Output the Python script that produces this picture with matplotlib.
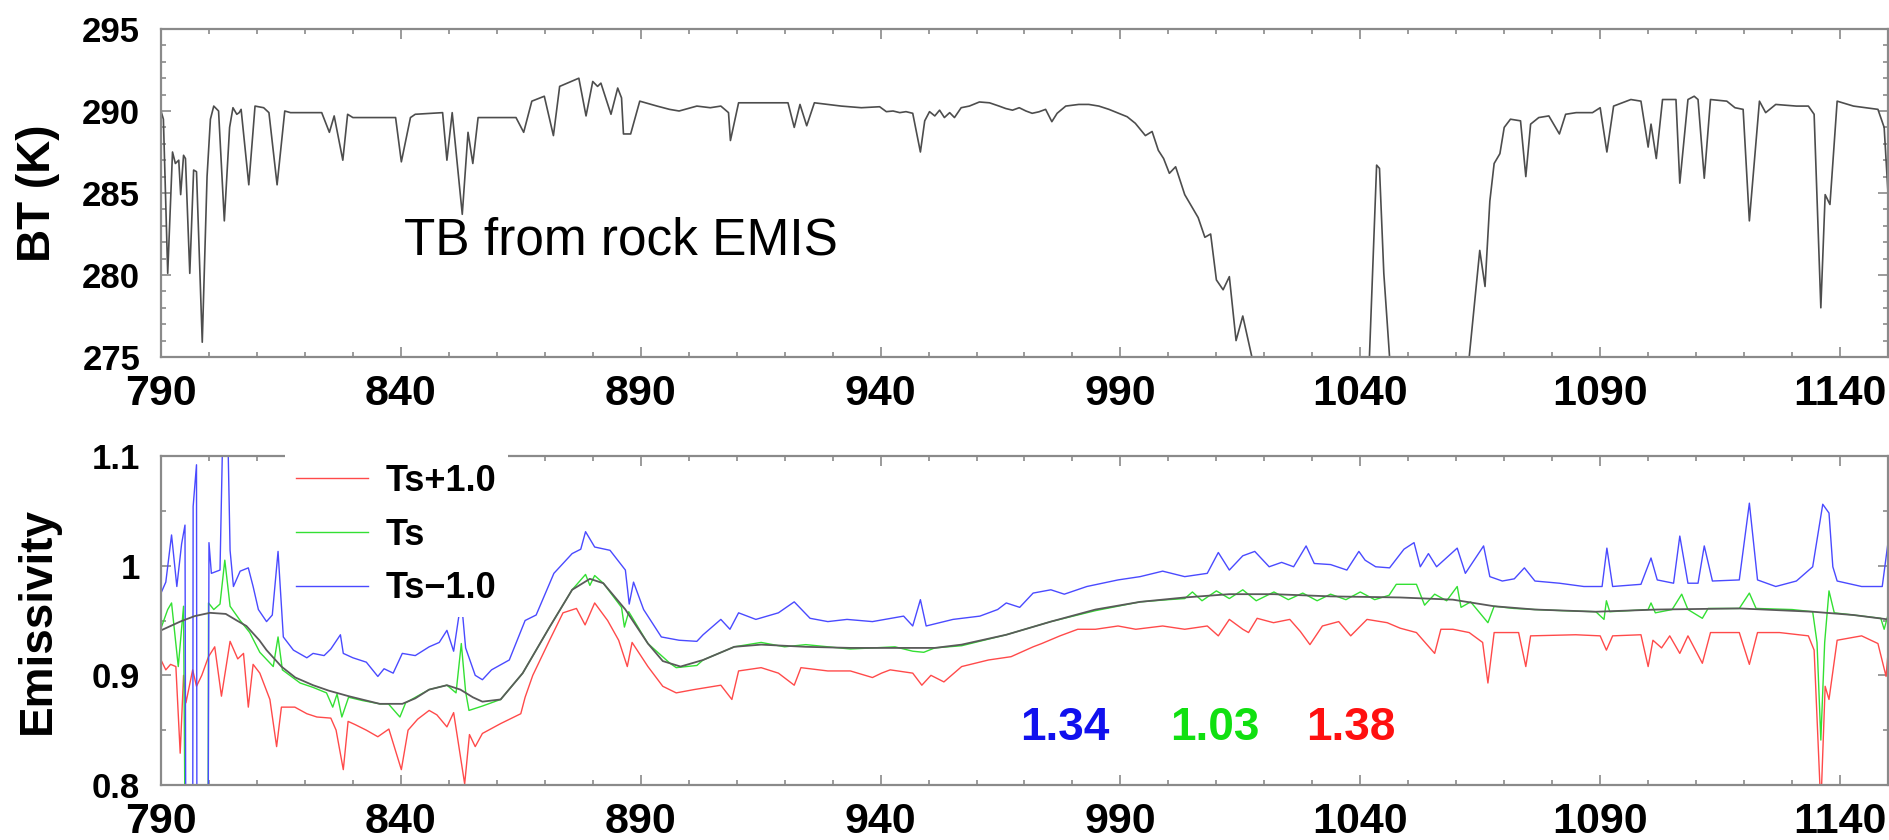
import matplotlib
matplotlib.use("Agg")
import matplotlib.pyplot as plt
from matplotlib.ticker import MultipleLocator

# ---- data ----
# brightness temperature, (wavenumber, K)
bt_points = [
    (790.0, 290.0), (790.5, 289.5), (791.4, 280.1), (792.4, 287.5), (793.0, 286.8), (793.7, 287.0),
    (794.1, 284.9), (794.7, 287.3), (795.1, 287.1), (796.0, 280.1), (796.8, 286.4), (797.4, 286.3),
    (798.6, 275.9), (799.6, 286.0), (800.3, 289.5), (801.0, 290.3), (802.0, 290.0), (803.2, 283.3),
    (804.3, 289.0), (805.0, 290.2), (805.8, 289.8), (806.3, 289.9), (806.7, 290.1), (808.3, 285.5),
    (809.6, 290.3), (811.4, 290.2), (812.5, 289.9), (814.2, 285.5), (815.8, 290.0), (817.0, 289.9),
    (823.5, 289.9), (825.1, 288.7), (826.1, 289.7), (827.9, 287.0), (828.9, 289.8), (830.0, 289.6),
    (838.9, 289.6), (840.1, 286.9), (842.0, 289.6), (843.0, 289.8), (848.7, 289.9), (849.6, 287.0),
    (850.7, 289.9), (852.8, 283.7), (854.0, 288.7), (855.0, 286.8), (856.1, 289.6), (864.0, 289.6),
    (865.6, 288.7), (867.3, 290.6), (869.9, 290.9), (871.8, 288.5), (873.1, 291.5), (877.1, 292.0),
    (878.6, 289.7), (880.0, 291.8), (881.0, 291.5), (881.7, 291.7), (883.8, 289.8), (885.2, 291.4),
    (886.0, 290.8), (886.4, 288.6), (887.6, 288.6), (887.9, 288.6), (889.8, 290.6), (893.4, 290.3),
    (896.0, 290.1), (898.0, 290.0), (901.7, 290.3), (904.5, 290.2), (906.7, 290.3), (908.3, 289.9),
    (908.7, 288.2), (910.4, 290.5), (915.0, 290.5), (920.7, 290.5), (922.0, 289.0), (923.2, 290.4),
    (924.6, 289.1), (926.2, 290.5), (931.8, 290.3), (936.0, 290.2), (939.8, 290.26), (941.2, 289.96),
    (942.6, 290.0), (944.0, 289.9), (945.3, 289.96), (946.7, 289.86), (948.3, 287.5), (949.2, 289.4),
    (950.2, 289.96), (951.3, 289.7), (952.3, 290.05), (953.3, 289.6), (954.4, 289.9), (955.4, 289.6),
    (956.8, 290.2), (958.5, 290.3), (960.6, 290.55), (962.7, 290.5), (964.7, 290.3), (966.1, 290.15),
    (967.5, 290.05), (968.9, 290.2), (970.3, 290.0), (971.6, 289.86), (973.0, 289.95), (974.4, 290.1),
    (975.7, 289.35), (976.8, 289.86), (978.6, 290.3), (981.3, 290.4), (983.4, 290.4), (985.5, 290.3),
    (987.6, 290.1), (989.6, 289.86), (991.4, 289.65), (993.1, 289.25), (995.2, 288.5), (996.6, 288.75),
    (997.9, 287.6), (999.0, 287.1), (1000.2, 286.2), (1001.5, 286.6), (1003.4, 284.9), (1006.2, 283.5),
    (1007.6, 282.3), (1008.8, 282.5), (1010.0, 279.7), (1011.4, 279.1), (1012.7, 279.9), (1014.1, 276.0),
    (1015.5, 277.5), (1017.4, 275.0), (1018.5, 273.0), (1030.0, 262.0), (1041.9, 275.0), (1043.4, 286.7),
    (1044.0, 286.5), (1044.9, 280.1), (1046.1, 275.0), (1050.0, 262.0), (1062.7, 275.0), (1064.9, 281.5),
    (1066.0, 279.3), (1067.0, 284.5), (1067.9, 286.8), (1069.1, 287.4), (1070.0, 289.0), (1071.3, 289.5),
    (1073.4, 289.4), (1074.5, 286.0), (1075.5, 289.2), (1077.2, 289.6), (1079.3, 289.7), (1081.5, 288.6),
    (1082.8, 289.8), (1085.0, 289.9), (1088.4, 289.9), (1090.0, 290.2), (1091.4, 287.5), (1092.8, 290.3),
    (1096.4, 290.7), (1098.5, 290.6), (1100.0, 287.8), (1100.6, 289.2), (1101.7, 287.1), (1103.0, 290.7),
    (1105.8, 290.7), (1106.6, 285.6), (1108.3, 290.7), (1109.6, 290.9), (1110.4, 290.7), (1111.7, 285.9),
    (1113.0, 290.7), (1116.4, 290.6), (1118.1, 290.2), (1119.8, 290.1), (1121.1, 283.3), (1123.2, 290.6),
    (1124.5, 289.9), (1126.6, 290.4), (1130.9, 290.3), (1133.4, 290.3), (1134.6, 289.8), (1136.0, 278.0),
    (1136.9, 284.9), (1137.9, 284.3), (1139.4, 290.6), (1142.8, 290.3), (1147.9, 290.1), (1149.2, 289.0),
    (1150.0, 285.0),
]
bt_wn = [p[0] for p in bt_points]
bt_val = [p[1] for p in bt_points]

minus_wn = [790.0, 791.0, 792.2, 793.3, 794.3, 795.0, 795.2, 796.6, 796.7, 797.4, 797.5, 799.8, 800.0, 800.5,
            802.3, 803.0, 803.8, 804.4, 805.1, 806.5, 808.2, 809.2, 810.3, 812.0, 813.2, 814.4, 815.5, 817.6,
            820.4, 821.7, 824.0, 825.4, 827.4, 828.0, 830.0, 832.8, 835.2, 836.5, 838.4, 840.3, 843.0, 845.9,
            848.0, 849.6, 851.0, 852.6, 853.5, 855.5, 857.0, 858.9, 862.6, 865.9, 868.2, 871.9, 875.7, 877.5,
            878.5, 880.4, 883.6, 886.8, 887.6, 888.5, 890.6, 894.3, 898.0, 901.7, 903.0, 906.7, 908.6, 910.4,
            914.0, 918.7, 922.0, 925.3, 929.0, 933.0, 938.3, 944.8, 946.7, 948.3, 949.5, 955.1, 960.7, 964.4,
            966.2, 969.0, 971.8, 975.5, 978.3, 983.0, 989.5, 994.1, 998.8, 1003.4, 1008.1, 1010.4, 1012.7,
            1015.5, 1018.0, 1021.0, 1023.6, 1026.1, 1028.7, 1030.4, 1033.8, 1037.2, 1039.7, 1041.0, 1043.2,
            1046.1, 1049.1, 1051.2, 1052.5, 1054.2, 1055.9, 1060.2, 1061.9, 1065.7, 1067.0, 1069.6, 1072.1,
            1074.2, 1076.4, 1081.5, 1086.6, 1090.4, 1091.4, 1092.6, 1098.5, 1100.6, 1101.9, 1105.3, 1106.6,
            1108.3, 1110.4, 1111.7, 1113.4, 1119.0, 1121.1, 1122.8, 1126.6, 1130.9, 1134.3, 1136.4, 1137.7,
            1138.5, 1139.4, 1144.5, 1148.8, 1150.0]
minus_val = [0.975, 0.985, 1.028, 0.981, 1.020, 1.037, 0.70, 0.70, 1.054, 1.092, 0.70, 0.70, 1.021, 0.993,
             0.996, 1.15, 1.15, 1.014, 0.981, 0.995, 0.998, 0.981, 0.960, 0.949, 0.955, 1.013, 0.935, 0.923,
             0.916, 0.920, 0.918, 0.924, 0.937, 0.920, 0.916, 0.912, 0.899, 0.906, 0.902, 0.920, 0.918, 0.926,
             0.930, 0.941, 0.922, 0.969, 0.925, 0.900, 0.896, 0.905, 0.914, 0.950, 0.955, 0.993, 1.011, 1.015,
             1.031, 1.017, 1.014, 0.996, 0.965, 0.985, 0.960, 0.935, 0.932, 0.931, 0.937, 0.951, 0.942, 0.957,
             0.951, 0.957, 0.967, 0.952, 0.949, 0.951, 0.949, 0.954, 0.945, 0.969, 0.945, 0.951, 0.954, 0.960,
             0.966, 0.962, 0.975, 0.978, 0.974, 0.981, 0.987, 0.990, 0.995, 0.990, 0.993, 1.012, 0.996,
             1.009, 1.013, 0.999, 1.003, 0.999, 1.018, 1.002, 1.001, 0.996, 1.013, 1.005, 0.999,
             0.998, 1.015, 1.021, 0.999, 1.011, 0.999, 1.016, 0.993, 1.018, 0.990, 0.986, 0.988,
             0.998, 0.986, 0.984, 0.981, 0.981, 1.016, 0.981, 0.983, 1.007, 0.987, 0.984, 1.027,
             0.984, 0.984, 1.018, 0.986, 0.987, 1.057, 0.987, 0.981, 0.986, 0.999, 1.056, 1.048,
             0.999, 0.986, 0.981, 0.981, 1.021]

ts_wn = [790.0, 791.4, 792.2, 793.6, 794.7, 795.1, 799.8, 799.9, 801.0, 802.3, 803.3, 804.4, 806.5, 808.5,
         810.6, 813.4, 814.4, 815.3, 819.0, 821.7, 824.5, 825.8, 826.7, 827.7, 829.1, 832.0, 835.6, 837.4,
         839.8, 841.0, 845.9, 849.6, 851.5, 852.6, 853.5, 854.2, 857.0, 860.8, 865.4, 871.0, 875.7, 878.5,
         879.4, 880.4, 882.2, 886.0, 886.6, 887.5, 891.5, 896.1, 897.4, 901.7, 903.0, 909.5, 915.1, 920.0,
         924.4, 933.7, 943.0, 946.7, 949.0, 951.3, 956.9, 966.2, 975.5, 984.8, 994.1, 1000.0, 1003.4,
         1005.0, 1007.0, 1010.0, 1012.7, 1015.5, 1018.3, 1022.0, 1025.0, 1028.0, 1031.0, 1033.8, 1037.0,
         1040.0, 1043.0, 1046.0, 1047.5, 1051.7, 1053.4, 1055.5, 1058.0, 1060.2, 1061.0, 1063.0, 1066.6,
         1067.9, 1072.0, 1076.4, 1082.0, 1089.1, 1090.8, 1091.3, 1092.0, 1100.0, 1100.6, 1101.5, 1105.0,
         1107.0, 1108.3, 1111.3, 1112.5, 1119.0, 1121.1, 1122.5, 1130.0, 1134.3, 1135.2, 1136.0, 1136.8,
         1137.7, 1138.8, 1142.8, 1148.5, 1149.2, 1150.0]
ts_val = [0.943, 0.960, 0.966, 0.908, 0.963, 0.70, 0.70, 0.966, 0.960, 0.965, 1.005, 0.963, 0.950, 0.939,
          0.921, 0.908, 0.935, 0.905, 0.893, 0.889, 0.884, 0.871, 0.883, 0.862, 0.880, 0.877, 0.874, 0.874,
          0.862, 0.875, 0.887, 0.891, 0.884, 0.929, 0.885, 0.868, 0.872, 0.878, 0.902, 0.944, 0.978, 0.992,
          0.982, 0.991, 0.984, 0.962, 0.944, 0.958, 0.929, 0.911, 0.907, 0.909, 0.914, 0.926, 0.930, 0.926,
          0.928, 0.924, 0.926, 0.922, 0.921, 0.925, 0.927, 0.937, 0.949, 0.959, 0.967, 0.969, 0.970,
          0.976, 0.968, 0.977, 0.970, 0.978, 0.968, 0.976, 0.969, 0.975, 0.968, 0.974, 0.969,
          0.976, 0.969, 0.973, 0.983, 0.983, 0.964, 0.974, 0.968, 0.981, 0.962, 0.967, 0.948,
          0.963, 0.961, 0.960, 0.959, 0.958, 0.951, 0.968, 0.958, 0.960, 0.966, 0.957, 0.960,
          0.974, 0.960, 0.952, 0.961, 0.961, 0.975, 0.961, 0.960, 0.958, 0.930, 0.841, 0.930,
          0.977, 0.957, 0.955, 0.952, 0.942, 0.955]

smooth_wn = [790.0, 794.0, 797.0, 800.2, 803.5, 805.8, 807.8, 810.5, 812.0, 815.1, 818.0, 821.7, 825.0, 829.1,
             835.6, 840.3, 843.0, 845.9, 849.6, 852.4, 855.0, 857.0, 860.8, 865.4, 871.0, 875.7, 879.4, 882.2,
             886.8, 891.5, 894.6, 898.3, 903.0, 909.5, 915.1, 924.4, 933.7, 943.0, 951.3, 956.9, 966.2, 975.5,
             984.8, 994.1, 1003.4, 1012.7, 1022.0, 1033.8, 1048.3, 1059.3, 1067.9, 1076.4, 1089.1, 1101.9,
             1119.0, 1134.3, 1142.8, 1150.0]
smooth_val = [0.941, 0.949, 0.954, 0.957, 0.956, 0.950, 0.945, 0.932, 0.923, 0.908, 0.898, 0.891, 0.886, 0.881,
              0.874, 0.874, 0.879, 0.887, 0.891, 0.887, 0.880, 0.876, 0.878, 0.902, 0.944, 0.978, 0.988, 0.984,
              0.960, 0.929, 0.913, 0.908, 0.914, 0.926, 0.928, 0.926, 0.925, 0.925, 0.925, 0.928, 0.937, 0.949,
              0.960, 0.967, 0.971, 0.974, 0.974, 0.972, 0.971, 0.969, 0.963, 0.960, 0.958, 0.960,
              0.961, 0.958, 0.955, 0.951]

plus_wn = [790.0, 791.0, 792.0, 793.1, 794.0, 794.7, 795.2, 796.6, 797.4, 798.5, 799.9, 801.2, 802.6, 804.4,
           806.0, 807.2, 808.2, 809.2, 810.6, 812.7, 814.1, 815.1, 817.9, 820.4, 822.5, 825.4, 826.5, 828.0,
           829.0, 830.5, 832.8, 835.2, 837.5, 840.1, 841.5, 843.5, 845.9, 847.5, 849.6, 851.0, 853.3, 854.3,
           855.5, 857.0, 860.8, 865.0, 865.9, 867.5, 871.0, 873.8, 876.6, 878.4, 880.4, 883.1, 885.4, 887.2,
           888.2, 891.5, 894.6, 897.4, 901.1, 906.7, 909.0, 910.4, 915.1, 918.7, 922.0, 923.4, 929.0, 933.7,
           938.3, 940.2, 942.0, 946.7, 948.6, 950.5, 953.2, 956.9, 962.5, 967.2, 971.8, 973.6, 977.4, 981.1,
           984.8, 989.5, 993.2, 998.8, 1003.4, 1008.1, 1010.4, 1012.7, 1015.5, 1016.7, 1018.5, 1021.9,
           1025.3, 1027.5, 1029.5, 1032.1, 1035.5, 1038.0, 1041.4, 1045.6, 1048.3, 1051.7, 1055.5, 1056.8,
           1059.3, 1062.7, 1065.5, 1066.6, 1067.9, 1073.0, 1074.5, 1075.5, 1084.9, 1090.0, 1091.3, 1092.6,
           1098.5, 1100.0, 1101.0, 1102.8, 1104.5, 1106.6, 1108.3, 1111.3, 1113.0, 1119.0, 1121.1, 1122.8,
           1127.4, 1133.4, 1134.6, 1136.0, 1136.9, 1137.7, 1139.4, 1144.5, 1147.9, 1149.6, 1150.0]
plus_val = [0.914, 0.905, 0.910, 0.908, 0.829, 0.900, 0.875, 0.905, 0.890, 0.900, 0.917, 0.926, 0.881, 0.931,
            0.915, 0.920, 0.871, 0.910, 0.902, 0.878, 0.835, 0.871, 0.871, 0.865, 0.862, 0.861, 0.850, 0.814,
            0.858, 0.855, 0.850, 0.844, 0.851, 0.814, 0.850, 0.860, 0.868, 0.864, 0.853, 0.866, 0.801, 0.846,
            0.835, 0.847, 0.856, 0.865, 0.880, 0.900, 0.932, 0.957, 0.961, 0.946, 0.966, 0.950, 0.932, 0.908,
            0.930, 0.908, 0.890, 0.884, 0.887, 0.891, 0.878, 0.904, 0.907, 0.902, 0.891, 0.907, 0.904, 0.904,
            0.898, 0.902, 0.905, 0.902, 0.891, 0.900, 0.894, 0.908, 0.914, 0.917, 0.926, 0.929, 0.936, 0.942,
            0.942, 0.945, 0.942, 0.945, 0.942, 0.945, 0.936, 0.951, 0.942, 0.939, 0.952, 0.948,
            0.951, 0.940, 0.928, 0.945, 0.949, 0.936, 0.951, 0.948, 0.943, 0.939, 0.920, 0.942,
            0.942, 0.939, 0.930, 0.893, 0.939, 0.939, 0.908, 0.936, 0.937, 0.936, 0.923, 0.936,
            0.937, 0.908, 0.932, 0.925, 0.936, 0.920, 0.936, 0.911, 0.939, 0.939, 0.910, 0.939,
            0.939, 0.936, 0.923, 0.780, 0.890, 0.878, 0.932, 0.936, 0.929, 0.899, 0.920]

series_labels = ["Ts+1.0", "Ts", "Ts\u22121.0"]
ratio_labels = ["1.34", "1.03", "1.38"]
ratio_pos = [978.5, 1009.6, 1038.1]
xticks = [790, 840, 890, 940, 990, 1040, 1090, 1140]

# ---- styling ----
narrow = ["Liberation Sans Narrow", "Liberation Sans", "DejaVu Sans"]
plain = ["Liberation Sans", "DejaVu Sans"]
spine_col = "#8a8a8a"
red, green, blue = "#ff4a4a", "#33e033", "#4a4aff"
ratio_colors = ["#1010ee", "#10e010", "#ff1010"]

W, H = 1890, 840
fig = plt.figure(figsize=(W / 100, H / 100), dpi=100)
left, right = 161, 1888
ax1 = fig.add_axes([left / W, 1 - 357 / H, (right - left) / W, (357 - 29) / H])
ax2 = fig.add_axes([left / W, 1 - 785 / H, (right - left) / W, (785 - 456) / H])


def style_axis(ax, yticks, ylabels, yminor):
    ax.set_xlim(790, 1150)
    ax.set_xticks(xticks)
    ax.set_xticklabels([str(t) for t in xticks], family=narrow, fontweight="bold", fontsize=31)
    ax.xaxis.set_minor_locator(MultipleLocator(10))
    ax.set_yticks(yticks)
    ax.set_yticklabels(ylabels, family=plain, fontweight="bold", fontsize=25)
    ax.yaxis.set_minor_locator(MultipleLocator(yminor))
    for s in ax.spines.values():
        s.set_color(spine_col)
        s.set_linewidth(1.6)
    ax.tick_params(which="both", direction="in", top=True, right=True, color=spine_col, width=1.2)
    ax.tick_params(which="major", length=7)
    ax.tick_params(which="minor", length=3.5)
    ax.tick_params(axis="x", pad=12)
    ax.tick_params(axis="y", pad=15)


# top panel: brightness temperature
ax1.plot(bt_wn, bt_val, color="#4d4d4d", lw=1.2)
ax1.set_ylim(275, 295)
style_axis(ax1, [275, 280, 285, 290, 295], ["275", "280", "285", "290", "295"], 1)
ax1.text(840.6, 282.1, "TB from rock EMIS", fontsize=37, family=plain,
         ha="left", va="center", color="black")

# bottom panel: emissivity
ax2.plot(plus_wn, plus_val, color=red, lw=1.0, label=series_labels[0])
ax2.plot(ts_wn, ts_val, color=green, lw=1.0, label=series_labels[1])
ax2.plot(minus_wn, minus_val, color=blue, lw=1.0, label=series_labels[2])
ax2.plot(smooth_wn, smooth_val, color="#5a5a5a", lw=1.3)
ax2.set_ylim(0.8, 1.1)
style_axis(ax2, [0.8, 0.9, 1.0, 1.1], ["0.8", "0.9", "1", "1.1"], 0.05)

leg = ax2.legend(loc="upper left", bbox_to_anchor=(285 / W, 1 - 453 / H), bbox_transform=fig.transFigure,
                 frameon=True, fancybox=False, facecolor="white", edgecolor="none", framealpha=1,
                 prop={"family": narrow, "weight": "bold", "size": 26},
                 handlelength=2.0, handletextpad=0.5, labelspacing=0.52, borderpad=0.3, borderaxespad=0)
leg.set_zorder(5)

for lab, xp, c in zip(ratio_labels, ratio_pos, ratio_colors):
    ax2.text(xp, 0.852, lab, color=c, fontsize=33, family=narrow, fontweight="bold",
             ha="center", va="center")

fig.text(38 / W, 1 - 193 / H, "BT (K)", rotation=90, fontsize=33, fontweight="bold",
         family=plain, ha="center", va="center")
fig.text(38 / W, 1 - 620 / H, "Emissivity", rotation=90, fontsize=33, fontweight="bold",
         family=plain, ha="center", va="center")

fig.savefig("out.png", dpi=100)
